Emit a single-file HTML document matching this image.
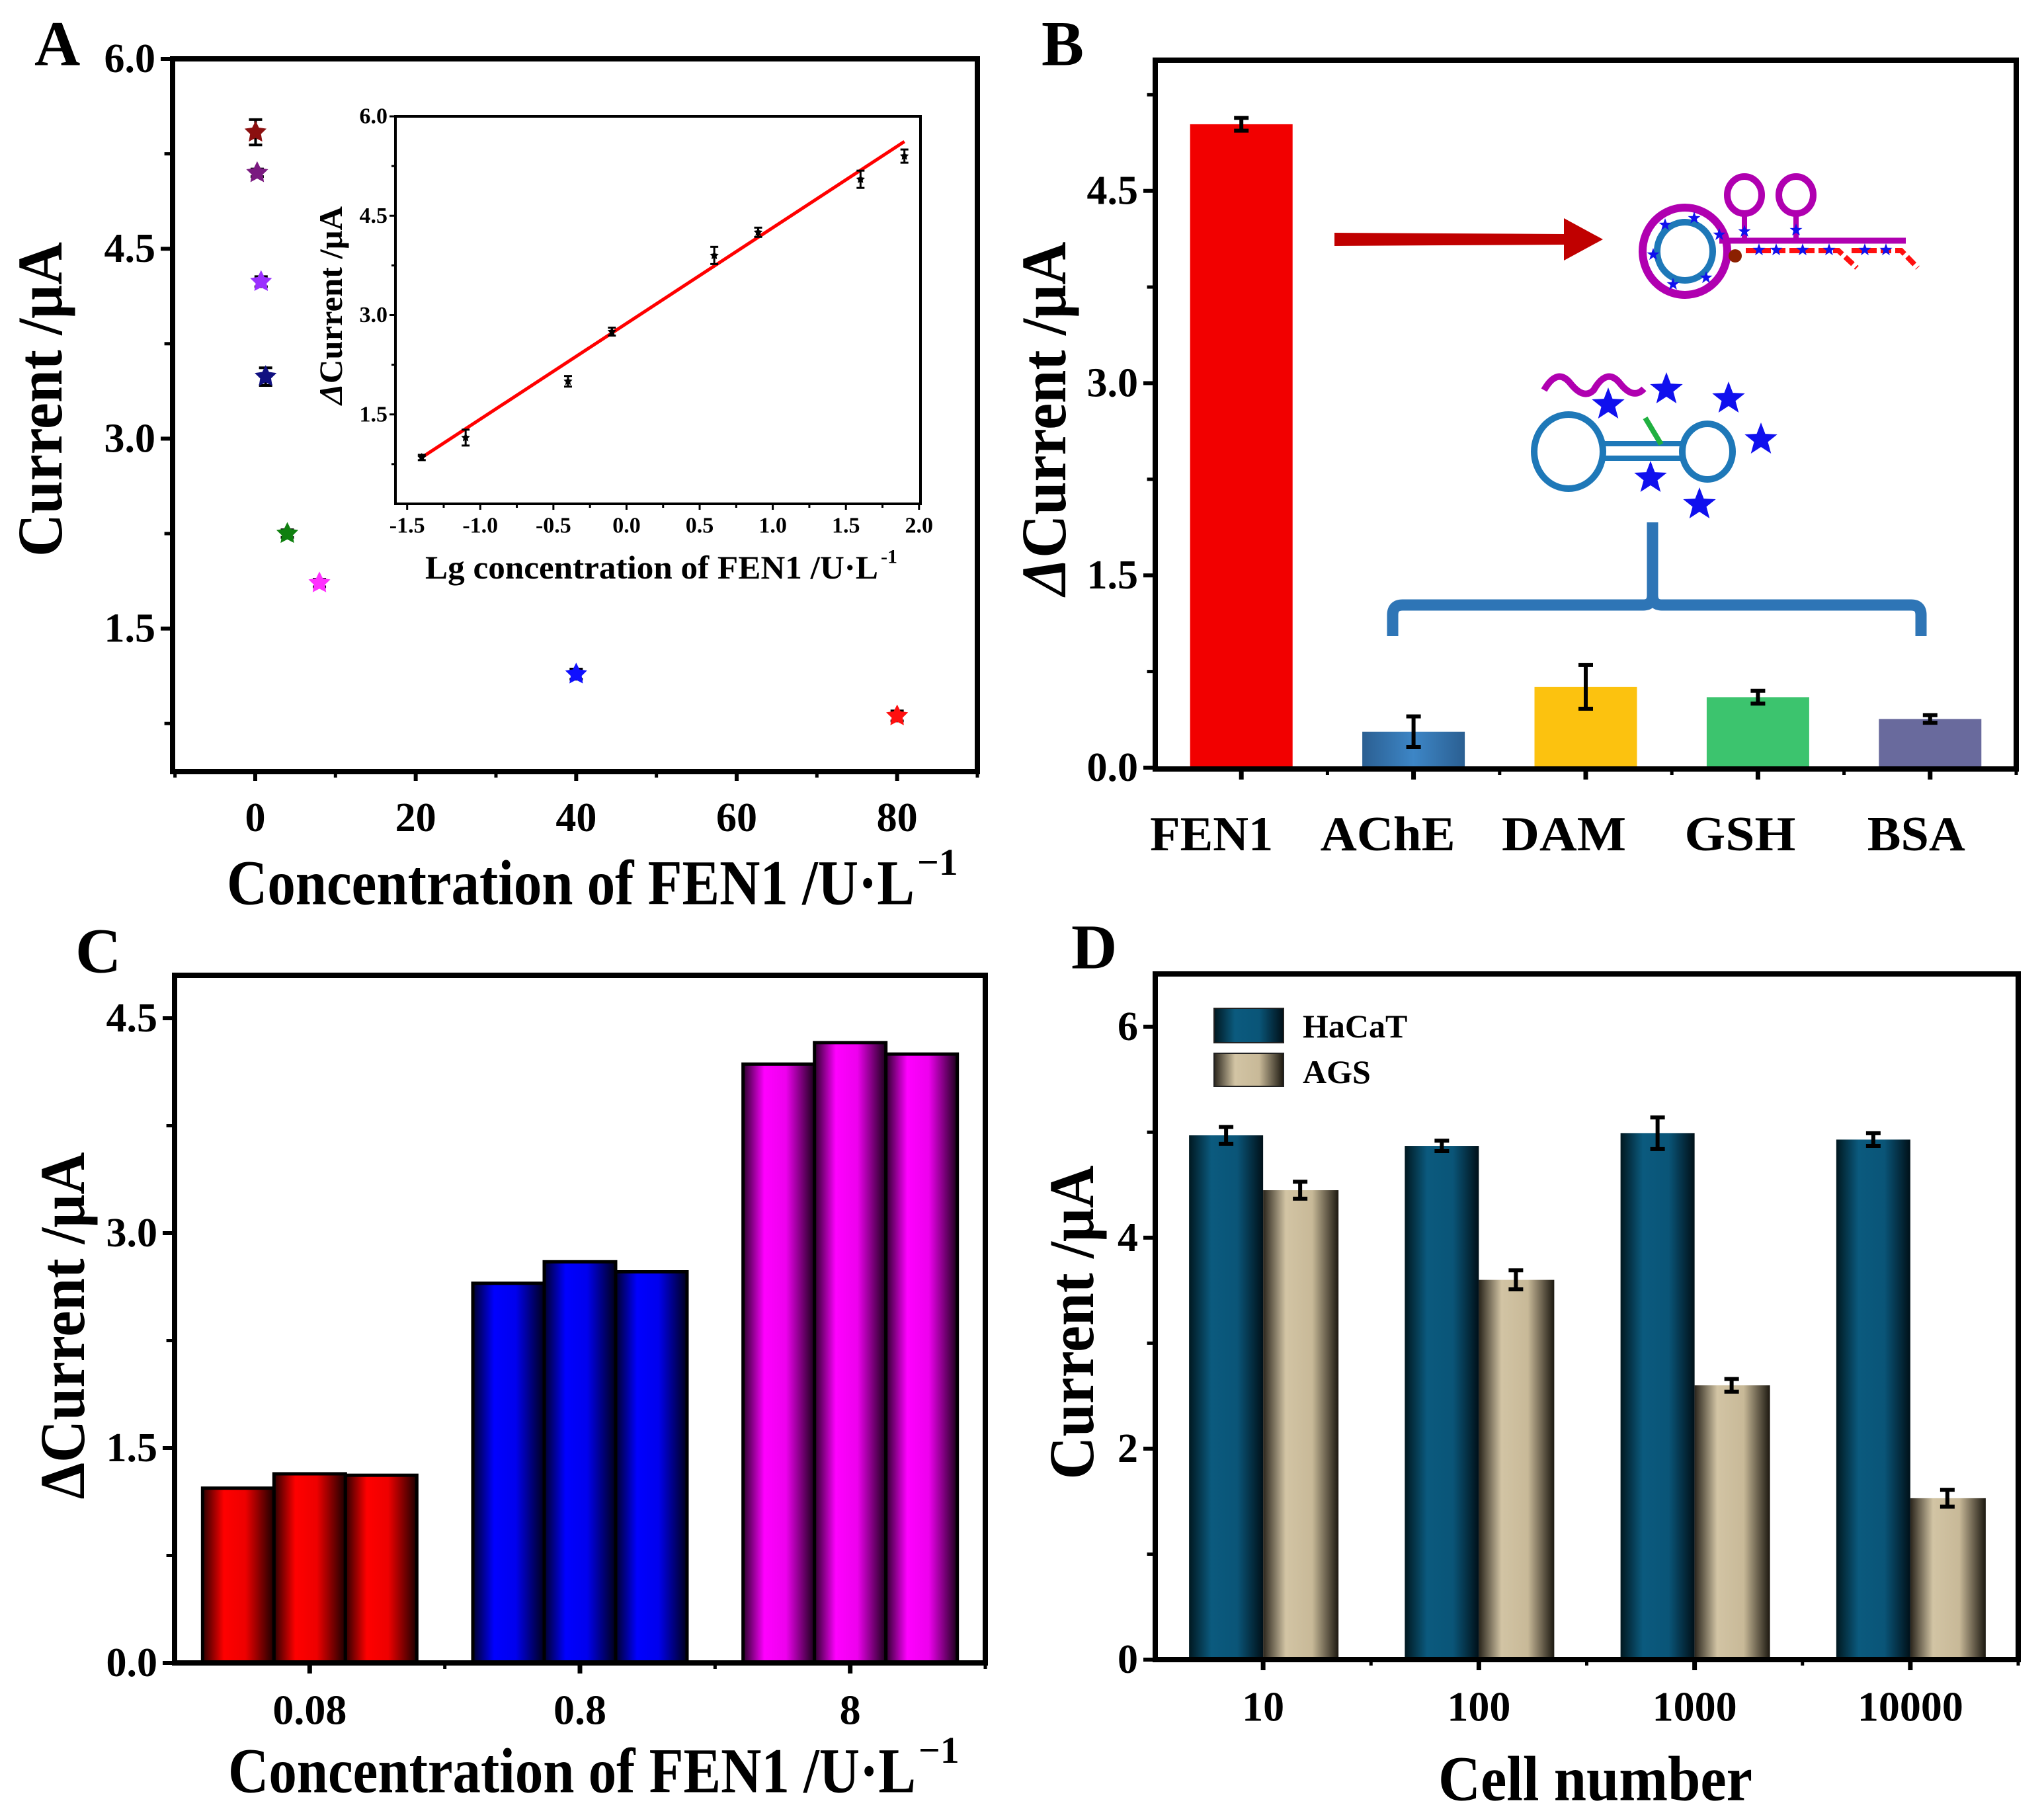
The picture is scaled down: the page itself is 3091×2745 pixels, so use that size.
<!DOCTYPE html>
<html><head><meta charset="utf-8">
<style>
html,body{margin:0;padding:0;background:#fff;}
svg, svg text{font-family:"Liberation Serif","Times New Roman",serif;font-weight:bold;}
</style></head>
<body>
<svg id="fig" xmlns="http://www.w3.org/2000/svg" width="3091" height="2740" viewBox="0 0 3091 2740" font-family="Liberation Serif, Times New Roman, serif">
<defs>
<linearGradient id="gRed" x1="0" x2="1" y1="0" y2="0"><stop offset="0" stop-color="#2a0000"/><stop offset="0.3" stop-color="#ff0000"/><stop offset="0.6" stop-color="#ee0000"/><stop offset="1" stop-color="#1a0000"/></linearGradient>
<linearGradient id="gBlue" x1="0" x2="1" y1="0" y2="0"><stop offset="0" stop-color="#00002a"/><stop offset="0.3" stop-color="#0000ff"/><stop offset="0.6" stop-color="#0000ee"/><stop offset="1" stop-color="#00001a"/></linearGradient>
<linearGradient id="gMag" x1="0" x2="1" y1="0" y2="0"><stop offset="0" stop-color="#2a002a"/><stop offset="0.3" stop-color="#ff00ff"/><stop offset="0.6" stop-color="#ee00ee"/><stop offset="1" stop-color="#1a001a"/></linearGradient>
<linearGradient id="gHa" x1="0" x2="1" y1="0" y2="0"><stop offset="0" stop-color="#001820"/><stop offset="0.3" stop-color="#0b5a7e"/><stop offset="0.65" stop-color="#0a5578"/><stop offset="1" stop-color="#001018"/></linearGradient>
<linearGradient id="gAgs" x1="0" x2="1" y1="0" y2="0"><stop offset="0" stop-color="#2a251c"/><stop offset="0.3" stop-color="#d2c4a4"/><stop offset="0.65" stop-color="#c8b998"/><stop offset="1" stop-color="#1c1810"/></linearGradient>
<linearGradient id="gAche" x1="0" x2="1" y1="0" y2="0"><stop offset="0" stop-color="#2b5f92"/><stop offset="0.5" stop-color="#3d86c6"/><stop offset="1" stop-color="#2b5f92"/></linearGradient>
</defs>
</svg>
<script>
// ---------- data ----------
const aConc = [0.04, 0.08, 0.4, 0.8, 4, 8, 40, 80];
const aCurrent = [5.42, 5.10, 4.24, 3.49, 2.25, 1.86, 1.14, 0.81];
const aErr = [0.10, 0.03, 0.04, 0.07, 0.03, 0.03, 0.04, 0.04];
const aColors = ['#8b1010', '#7a1a80', '#9b30ff', '#101080', '#108010', '#ff30ff', '#1010ff', '#ff1010'];
const aXTicks = [0, 20, 40, 60, 80];
const aYTicks = [1.5, 3.0, 4.5, 6.0];
const inX = [-1.4, -1.1, -0.4, -0.1, 0.6, 0.9, 1.6, 1.9];
const inY = [0.85, 1.15, 2.0, 2.75, 3.9, 4.25, 5.05, 5.4];
const inErr = [0.04, 0.12, 0.08, 0.06, 0.13, 0.07, 0.13, 0.1];
const inFitX = [-1.4, 1.9];
const inFitY = [0.85, 5.62];
const inXTicks = [-1.5, -1.0, -0.5, 0.0, 0.5, 1.0, 1.5, 2.0];
const inYTicks = [1.5, 3.0, 4.5, 6.0];
const bCats = ['FEN1', 'AChE', 'DAM', 'GSH', 'BSA'];
const bVals = [5.02, 0.28, 0.63, 0.55, 0.38];
const bErr = [0.05, 0.12, 0.17, 0.05, 0.03];
const bFill = ['#f20000', 'url(#gAche)', '#fcc20f', '#3cc46e', '#696a9d'];
const bYTicks = [0.0, 1.5, 3.0, 4.5];
const cCats = ['0.08', '0.8', '8'];
const cRep1 = [1.22, 2.65, 4.18];
const cRep2 = [1.32, 2.80, 4.33];
const cRep3 = [1.31, 2.73, 4.25];
const cFill = ['url(#gRed)', 'url(#gBlue)', 'url(#gMag)'];
const cYTicks = [0.0, 1.5, 3.0, 4.5];
const dCats = ['10', '100', '1000', '10000'];
const dHaCaT = [4.97, 4.87, 4.99, 4.93];
const dHaCaTErr = [0.08, 0.05, 0.15, 0.06];
const dAGS = [4.45, 3.60, 2.60, 1.53];
const dAGSErr = [0.08, 0.09, 0.06, 0.08];
const dYTicks = [0, 2, 4, 6];

const NS = 'http://www.w3.org/2000/svg';
const svg = document.getElementById('fig');
function mk(tag, attrs, parent) {
  const e = document.createElementNS(NS, tag);
  for (const k in attrs) e.setAttribute(k, attrs[k]);
  (parent || svg).appendChild(e);
  return e;
}
function txt(str, x, y, size, anchor, parent, len) {
  const a = {x: x, y: y, 'font-size': size, 'text-anchor': anchor || 'middle', 'dominant-baseline': 'central', fill: '#000'};
  if (len) { a.textLength = len; a.lengthAdjust = 'spacingAndGlyphs'; }
  const t = mk('text', a, parent);
  t.textContent = str;
  return t;
}
function lin(d0, d1, r0, r1) { return v => r0 + (v - d0) / (d1 - d0) * (r1 - r0); }

function frame(g, x0, y0, x1, y1, w) {
  const r = mk('rect', {x: x0, y: y0, width: x1 - x0, height: y1 - y0, fill: 'none', stroke: '#000', 'stroke-width': w}, g);
  
  
}
function yTicks(g, ticks, sy, x0, len, size, fmt, minorStep, y0, y1) {
  ticks.forEach(v => {
    const y = sy(v);
    mk('line', {x1: x0 - len, x2: x0, y1: y, y2: y, stroke: '#000', 'stroke-width': 6}, g);
    const t = txt(fmt(v), x0 - len - 8, y, size, 'end', g);
    
    
  });
  if (minorStep) {
    for (let i = 0; i < ticks.length; i++) {
      const y = sy(ticks[i] - minorStep);
      if (y > y0 && y < y1) mk('line', {x1: x0 - len * 0.6, x2: x0, y1: y, y2: y, stroke: '#000', 'stroke-width': 5}, g);
    }
    const y = sy(ticks[ticks.length - 1] + minorStep);
    if (y > y0 && y < y1) mk('line', {x1: x0 - len * 0.6, x2: x0, y1: y, y2: y, stroke: '#000', 'stroke-width': 5}, g);
  }
}
function errBar(g, x, yTop, yBot, cap, w) {
  mk('line', {x1: x, x2: x, y1: yTop, y2: yBot, stroke: '#000', 'stroke-width': w}, g);
  mk('line', {x1: x - cap, x2: x + cap, y1: yTop, y2: yTop, stroke: '#000', 'stroke-width': w}, g);
  mk('line', {x1: x - cap, x2: x + cap, y1: yBot, y2: yBot, stroke: '#000', 'stroke-width': w}, g);
}
function starPath(cx, cy, R, r) {
  let d = '';
  for (let i = 0; i < 10; i++) {
    const a = -Math.PI / 2 + i * Math.PI / 5;
    const rr = i % 2 ? r : R;
    d += (i ? 'L' : 'M') + (cx + rr * Math.cos(a)).toFixed(1) + ',' + (cy + rr * Math.sin(a)).toFixed(1);
  }
  return d + 'Z';
}
function title(g, xLeft, y, size, main, len, sup) {
  const t = txt(main, xLeft, y, size, 'start', g, len);
  if (sup) {
    const s = txt(sup, xLeft + len + 4, y - size * 0.32, size * 0.6, 'start', g);
    
    
  }
  return t;
}
function yTitle(g, x, y, size, parts, len) {
  const t = mk('text', {x: 0, y: 0, 'font-size': size, 'text-anchor': 'middle', 'dominant-baseline': 'central', fill: '#000', textLength: len, lengthAdjust: 'spacingAndGlyphs', transform: `translate(${x},${y}) rotate(-90)`}, g);
  parts.forEach(p => {
    const s = mk('tspan', p.italic ? {'font-style': 'italic'} : {}, t);
    s.textContent = p.s;
  });
  return t;
}
function panelLabel(g, s, x, y) {
  const t = txt(s, x, y, 96, 'start', g);
  
  
}

// ================= Panel A =================
(function () {
  const g = mk('g', {});
  
  
  const x0 = 261, x1 = 1478, y0 = 89, y1 = 1167;
  const sx = lin(-10.3, 90, x0, x1), sy = lin(0.37, 6.0, y1, y0);
  panelLabel(g, 'A', 52, 66);
  frame(g, x0, y0, x1, y1, 8);
  yTicks(g, aYTicks, sy, x0 - 4, 14, 62, v => v.toFixed(1), 0.75, y0, y1);
  aXTicks.forEach(v => {
    const x = sx(v);
    mk('line', {x1: x, x2: x, y1: y1, y2: y1 + 14, stroke: '#000', 'stroke-width': 6}, g);
    mk('line', {x1: x + sx(10) - sx(0), x2: x + sx(10) - sx(0), y1: y1, y2: y1 + 9, stroke: '#000', 'stroke-width': 5}, g);
    const t = txt(String(v), x, 1237, 62, 'middle', g);
    
    
  });
  mk('line', {x1: sx(-10), x2: sx(-10), y1: y1, y2: y1 + 9, stroke: '#000', 'stroke-width': 5}, g);
  const xt = title(g, 343, 1335, 96, 'Concentration of FEN1 /U\u00b7L', 1040, '\u22121');
  
  
  const yt = yTitle(g, 60, 604, 96, [{s: 'Current /\u03bcA'}], 476);
  
  
  aConc.forEach((c, i) => {
    const x = sx(c) + (i < 4 ? i * 2 : 0), y = sy(aCurrent[i]);
    errBar(g, x, sy(aCurrent[i] + aErr[i]), sy(aCurrent[i] - aErr[i]), 10, 4);
    const p = mk('path', {d: starPath(x, y, 14, 7), fill: aColors[i], stroke: aColors[i], 'stroke-width': 3}, g);
    
    
  });

  // Inset
  const ig = mk('g', {}, g);
  
  
  const ix0 = 598, ix1 = 1392, iy0 = 176, iy1 = 762;
  const isx = lin(-1.58, 2.01, ix0, ix1), isy = lin(0.15, 6.0, iy1, iy0);
  mk('rect', {x: ix0, y: iy0, width: ix1 - ix0, height: iy1 - iy0, fill: '#fff', stroke: '#000', 'stroke-width': 4}, ig);
  inYTicks.forEach(v => {
    const y = isy(v);
    mk('line', {x1: ix0 - 9, x2: ix0, y1: y, y2: y, stroke: '#000', 'stroke-width': 3}, ig);
    mk('line', {x1: ix0 - 6, x2: ix0, y1: isy(v - 0.75), y2: isy(v - 0.75), stroke: '#000', 'stroke-width': 3}, ig);
    const t = txt(v.toFixed(1), ix0 - 12, y, 34, 'end', ig);
    
    
  });
  inXTicks.forEach(v => {
    const x = isx(v);
    mk('line', {x1: x, x2: x, y1: iy1, y2: iy1 + 9, stroke: '#000', 'stroke-width': 3}, ig);
    const xm = isx(v + 0.25);
    if (xm < ix1) mk('line', {x1: xm, x2: xm, y1: iy1, y2: iy1 + 6, stroke: '#000', 'stroke-width': 3}, ig);
    const t = txt(v.toFixed(1), x, 795, 34, 'middle', ig);
    
    
  });
  const it = title(ig, 643, 858, 50, 'Lg concentration of FEN1 /U\u00b7L', 685, '-1');
  
  
  const iyt = yTitle(ig, 500, 462, 50, [{s: '\u0394', italic: true}, {s: 'Current /\u03bcA'}], 300);
  
  
  const fit = mk('line', {x1: isx(inFitX[0]), y1: isy(inFitY[0]), x2: isx(inFitX[1]), y2: isy(inFitY[1]), stroke: '#ff0000', 'stroke-width': 5}, ig);
  
  
  inX.forEach((v, i) => {
    const x = isx(v), y = isy(inY[i]);
    errBar(ig, x, isy(inY[i] + inErr[i]), isy(inY[i] - inErr[i]), 6, 3);
    const p = mk('path', {d: starPath(x, y, 7, 3.5), fill: '#000'}, ig);
    
    
  });
})();

// ================= Panel B =================
(function () {
  const g = mk('g', {});
  
  
  const x0 = 1747, x1 = 3049, y0 = 91, y1 = 1163;
  const step = (x1 - x0) / bCats.length;
  const sx = i => x0 + (i + 0.5) * step, sy = lin(0, 5.52, 1161, y0);
  panelLabel(g, 'B', 1575, 66);
  yTicks(g, bYTicks, sy, x0 - 4, 14, 62, v => v.toFixed(1), 0.75, y0, y1);
  const labLen = [186, 204, 188, 168, 148];
  bCats.forEach((c, i) => {
    const x = sx(i), w = 155;
    const r = mk('rect', {x: x - w / 2, y: sy(bVals[i]), width: w, height: sy(0) - sy(bVals[i]), fill: bFill[i]}, g);
    
    
    errBar(g, x, sy(bVals[i] + bErr[i]), sy(bVals[i] - bErr[i]), 11, 6);
    mk('line', {x1: x, x2: x, y1: y1, y2: y1 + 16, stroke: '#000', 'stroke-width': 7}, g);
    mk('line', {x1: x + step / 2, x2: x + step / 2, y1: y1, y2: y1 + 9, stroke: '#000', 'stroke-width': 5}, g);
    const t = txt(c, x - 45 + i * 6, 1262, 74, 'middle', g, labLen[i]);
    
    
  });
  frame(g, x0, y0, x1, y1, 8);
  const yt = yTitle(g, 1578, 633, 96, [{s: '\u0394', italic: true}, {s: 'Current /\u03bcA'}], 535);
  
  

  // schematic
  const sg = mk('g', {}, g);
  
  
  const ar = mk('path', {d: 'M2018,352 L2365,354 L2365,330 L2424,362 L2365,394 L2365,370 L2018,372 Z', fill: '#c00000'}, sg);
  
  
  mk('ellipse', {cx: 2548, cy: 380, rx: 64, ry: 66, fill: 'none', stroke: '#b000b0', 'stroke-width': 12}, sg);
  mk('ellipse', {cx: 2548, cy: 380, rx: 42, ry: 44, fill: 'none', stroke: '#1e78b8', 'stroke-width': 10}, sg);
  mk('ellipse', {cx: 2638, cy: 295, rx: 26, ry: 28, fill: 'none', stroke: '#b000b0', 'stroke-width': 10}, sg);
  mk('ellipse', {cx: 2716, cy: 295, rx: 26, ry: 28, fill: 'none', stroke: '#b000b0', 'stroke-width': 10}, sg);
  mk('line', {x1: 2638, x2: 2638, y1: 322, y2: 364, stroke: '#b000b0', 'stroke-width': 8}, sg);
  mk('line', {x1: 2716, x2: 2716, y1: 322, y2: 364, stroke: '#b000b0', 'stroke-width': 8}, sg);
  mk('line', {x1: 2600, x2: 2882, y1: 364, y2: 364, stroke: '#b000b0', 'stroke-width': 9}, sg);
  mk('path', {d: 'M2640,379 L2780,379 L2808,405 M2800,379 L2875,379 L2900,405', fill: 'none', stroke: '#ff1010', 'stroke-width': 8, 'stroke-dasharray': '16,6'}, sg);
  mk('circle', {cx: 2624, cy: 387, r: 10, fill: '#8b2000'}, sg);
  [[2518, 340], [2562, 330], [2500, 385], [2530, 430], [2580, 420], [2600, 355], [2660, 378], [2686, 378], [2726, 378], [2766, 378], [2820, 378], [2852, 378], [2638, 350], [2716, 348]].forEach(p => {
    mk('path', {d: starPath(p[0], p[1], 10, 4), fill: '#1010ee'}, sg);
  });
  mk('path', {d: 'M2335,590 Q2355,555 2375,580 Q2395,605 2410,590 Q2430,555 2450,580 Q2470,605 2486,588', fill: 'none', stroke: '#b000b0', 'stroke-width': 10}, sg);
  mk('ellipse', {cx: 2372, cy: 683, rx: 52, ry: 56, fill: 'none', stroke: '#1e78b8', 'stroke-width': 10}, sg);
  mk('ellipse', {cx: 2582, cy: 683, rx: 38, ry: 42, fill: 'none', stroke: '#1e78b8', 'stroke-width': 10}, sg);
  mk('line', {x1: 2422, x2: 2546, y1: 671, y2: 671, stroke: '#1e78b8', 'stroke-width': 8}, sg);
  mk('line', {x1: 2422, x2: 2546, y1: 693, y2: 693, stroke: '#1e78b8', 'stroke-width': 8}, sg);
  mk('line', {x1: 2488, x2: 2512, y1: 632, y2: 672, stroke: '#20b040', 'stroke-width': 8}, sg);
  [[2432, 612], [2520, 589], [2614, 603], [2663, 665], [2496, 723], [2570, 763]].forEach(p => {
    mk('path', {d: starPath(p[0], p[1], 26, 11), fill: '#1010ee'}, sg);
  });
  const br = mk('path', {d: 'M2106,962 L2106,930 Q2106,915 2121,915 L2485,915 Q2499,915 2499,900 L2499,790 M2499,900 Q2499,915 2513,915 L2890,915 Q2905,915 2905,930 L2905,962', fill: 'none', stroke: '#2e75b6', 'stroke-width': 17}, sg);
  
  
})();

// ================= Panel C =================
(function () {
  const g = mk('g', {});
  
  
  const x0 = 264, x1 = 1490, y0 = 1475, y1 = 2515;
  const step = (x1 - x0) / cCats.length;
  const sx = i => x0 + (i + 0.5) * step, sy = lin(0, 4.8, y1, y0);
  panelLabel(g, 'C', 114, 1438);
  yTicks(g, cYTicks, sy, x0 - 4, 14, 62, v => v.toFixed(1), 0.75, y0, y1);
  const reps = [cRep1, cRep2, cRep3];
  cCats.forEach((c, i) => {
    const xc = sx(i), w = 108;
    reps.forEach((rep, j) => {
      const x = xc + (j - 1.5) * w;
      const r = mk('rect', {x: x, y: sy(rep[i]), width: w, height: sy(0) - sy(rep[i]), fill: cFill[i], stroke: '#000', 'stroke-width': 5}, g);
      
      
    });
    mk('line', {x1: xc, x2: xc, y1: y1, y2: y1 + 16, stroke: '#000', 'stroke-width': 7}, g);
    mk('line', {x1: xc + step / 2, x2: xc + step / 2, y1: y1, y2: y1 + 9, stroke: '#000', 'stroke-width': 5}, g);
    const t = txt(c, xc, 2586, 64, 'middle', g);
    
    
  });
  frame(g, x0, y0, x1, y1, 8);
  const xt = title(g, 345, 2678, 96, 'Concentration of FEN1 /U\u00b7L', 1040, '\u22121');
  
  
  const yt = yTitle(g, 94, 2005, 96, [{s: '\u0394Current /\u03bcA'}], 525);
  
  
})();

// ================= Panel D =================
(function () {
  const g = mk('g', {});
  
  
  const x0 = 1747, x1 = 3052, y0 = 1473, y1 = 2510;
  const step = (x1 - x0) / dCats.length;
  const sx = i => x0 + (i + 0.5) * step, sy = lin(0, 6.5, y1, y0);
  panelLabel(g, 'D', 1620, 1432);
  yTicks(g, dYTicks, sy, x0 - 4, 14, 62, v => String(v), 1, y0, y1);
  dCats.forEach((c, i) => {
    const xc = sx(i), w = 112;
    const r1 = mk('rect', {x: xc - w, y: sy(dHaCaT[i]), width: w, height: sy(0) - sy(dHaCaT[i]), fill: 'url(#gHa)'}, g);
    
    
    const r2 = mk('rect', {x: xc, y: sy(dAGS[i]), width: w + 2, height: sy(0) - sy(dAGS[i]), fill: 'url(#gAgs)'}, g);
    
    
    errBar(g, xc - w / 2, sy(dHaCaT[i] + dHaCaTErr[i]), sy(dHaCaT[i] - dHaCaTErr[i]), 11, 6);
    errBar(g, xc + w / 2, sy(dAGS[i] + dAGSErr[i]), sy(dAGS[i] - dAGSErr[i]), 11, 6);
    mk('line', {x1: xc, x2: xc, y1: y1, y2: y1 + 16, stroke: '#000', 'stroke-width': 7}, g);
    mk('line', {x1: xc + step / 2, x2: xc + step / 2, y1: y1, y2: y1 + 9, stroke: '#000', 'stroke-width': 5}, g);
    const t = txt(c, xc, 2581, 64, 'middle', g);
    
    
  });
  frame(g, x0, y0, x1, y1, 8);
  const xt = title(g, 2175, 2690, 96, 'Cell number', 475);
  
  
  const yt = yTitle(g, 1620, 2000, 96, [{s: 'Current /\u03bcA'}], 475);
  
  
  const lg = mk('g', {}, g);
  
  
  const s1 = mk('rect', {x: 1836, y: 1525, width: 105, height: 52, fill: 'url(#gHa)', stroke: '#222', 'stroke-width': 2}, lg);
  
  
  const s2 = mk('rect', {x: 1836, y: 1593, width: 105, height: 50, fill: 'url(#gAgs)', stroke: '#222', 'stroke-width': 2}, lg);
  
  
  const l1 = txt('HaCaT', 1970, 1552, 50, 'start', lg);
  
  
  const l2 = txt('AGS', 1970, 1621, 50, 'start', lg);
  
  
})();
</script>
</body></html>
